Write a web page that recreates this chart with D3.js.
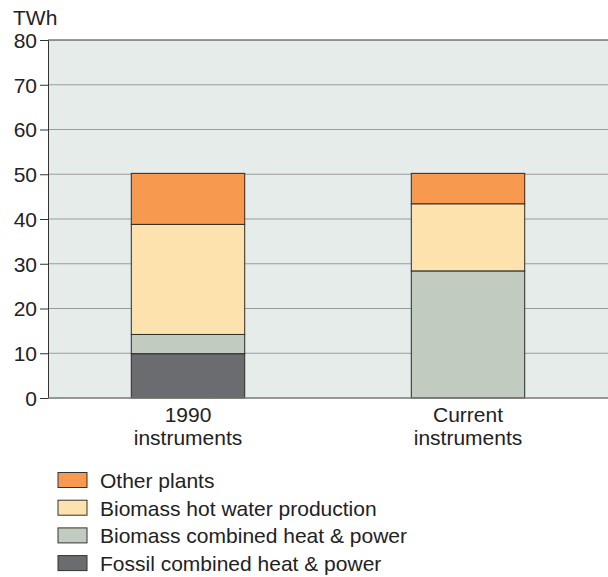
<!DOCTYPE html>
<html>
<head>
<meta charset="utf-8">
<script src="https://cdn.jsdelivr.net/npm/d3@7"></script>
<style>
  html, body { margin: 0; padding: 0; background: #fff; }
  svg { display: block; font-family: "Liberation Sans", Arial, sans-serif; }
</style>
</head>
<body>
<svg id="chart" width="608" height="577"></svg>
<script>
// Scenarios (x categories), each label split over two lines
const categories = ["1990 instruments", "Current instruments"];
const categoryLines = [["1990", "instruments"], ["Current", "instruments"]];

// Series, bottom of the stack first (TWh)
const seriesNames = [
  "Fossil combined heat & power",
  "Biomass combined heat & power",
  "Biomass hot water production",
  "Other plants"
];
const fossilCHP   = [9.9, 0];
const biomassCHP  = [4.3, 28.4];
const hotWater    = [24.6, 15.0];
const otherPlants = [11.4, 6.8];
const seriesColors = ["#6b6c70", "#c1cbbf", "#fde2ad", "#f79a50"];

const yTicks = [0, 10, 20, 30, 40, 50, 60, 70, 80];

const rows = categories.map((c, i) => ({
  category: c,
  [seriesNames[0]]: fossilCHP[i],
  [seriesNames[1]]: biomassCHP[i],
  [seriesNames[2]]: hotWater[i],
  [seriesNames[3]]: otherPlants[i]
}));

const svg = d3.select("#chart");
const margin = { left: 48, right: 0, top: 40, bottom: 179 };
const W = 608, H = 577;
const plotW = W - margin.left - margin.right;
const plotH = H - margin.top - margin.bottom;
const FONT = "Liberation Sans, Arial, sans-serif";

const x = d3.scaleBand().domain(categories).range([margin.left, W - margin.right])
  .paddingInner(0.595).paddingOuter(0.2975);
const y = d3.scaleLinear().domain([0, 80]).range([H - margin.bottom, margin.top]);

// plot background
svg.append("rect")
  .attr("x", margin.left).attr("y", margin.top)
  .attr("width", plotW).attr("height", plotH)
  .attr("fill", "#e5ecea");

// horizontal gridlines
svg.append("g").selectAll("line")
  .data(yTicks.filter(t => t > 0 && t < 80))
  .join("line")
  .attr("x1", margin.left).attr("x2", W)
  .attr("y1", d => y(d)).attr("y2", d => y(d))
  .attr("stroke", "#9a9c9c").attr("stroke-width", 1);

// top border line
svg.append("line")
  .attr("x1", margin.left).attr("x2", W)
  .attr("y1", y(80)).attr("y2", y(80))
  .attr("stroke", "#333").attr("stroke-width", 1);

// stacked bars
const stack = d3.stack().keys(seriesNames)(rows);
svg.append("g").selectAll("g")
  .data(stack)
  .join("g")
  .attr("fill", (d, i) => seriesColors[i])
  .selectAll("rect")
  .data(d => d.filter(s => s[1] - s[0] > 0))
  .join("rect")
  .attr("x", d => x(d.data.category))
  .attr("width", x.bandwidth())
  .attr("y", d => y(d[1]))
  .attr("height", d => y(d[0]) - y(d[1]))
  .attr("stroke", "#2b2b2b")
  .attr("stroke-width", 1);

// y axis
const yAxis = d3.axisLeft(y).tickValues(yTicks).tickSize(8).tickPadding(3);
const yg = svg.append("g").attr("transform", `translate(${margin.left},0)`).call(yAxis);
yg.attr("font-size", null).attr("font-family", null);
yg.select(".domain").attr("stroke", "#333");
yg.selectAll(".tick line").attr("stroke", "#333");
yg.selectAll(".tick text").attr("font-size", 21).attr("fill", "#222")
  .attr("font-family", FONT).attr("dy", "0.35em");

// baseline
svg.append("line")
  .attr("x1", margin.left).attr("x2", W)
  .attr("y1", y(0)).attr("y2", y(0))
  .attr("stroke", "#777").attr("stroke-width", 1.5);

// unit label
svg.append("text")
  .attr("x", 13).attr("y", 25)
  .attr("font-size", 21).attr("fill", "#222")
  .text("TWh");

// category labels
const xl = svg.append("g").selectAll("text")
  .data(categories)
  .join("text")
  .attr("text-anchor", "middle")
  .attr("font-size", 21).attr("fill", "#222")
  .attr("x", d => x(d) + x.bandwidth() / 2)
  .attr("y", 421.5);
xl.selectAll("tspan")
  .data((d, i) => categoryLines[i])
  .join("tspan")
  .attr("x", function () { return d3.select(this.parentNode).attr("x"); })
  .attr("dy", (d, i) => i === 0 ? 0 : 23.5)
  .text(d => d);

// legend (top entry is the top of the stack)
const legendOrder = seriesNames.map((n, i) => ({ name: n, color: seriesColors[i] })).reverse();
const lg = svg.append("g").selectAll("g")
  .data(legendOrder)
  .join("g")
  .attr("transform", (d, i) => `translate(58, ${472.5 + i * 27.7})`);
lg.append("rect")
  .attr("width", 29).attr("height", 15)
  .attr("fill", d => d.color)
  .attr("stroke", "#333").attr("stroke-width", 1);
lg.append("text")
  .attr("x", 42).attr("y", 15.5)
  .attr("font-size", 21).attr("fill", "#222")
  .text(d => d.name);
</script>
</body>
</html>
